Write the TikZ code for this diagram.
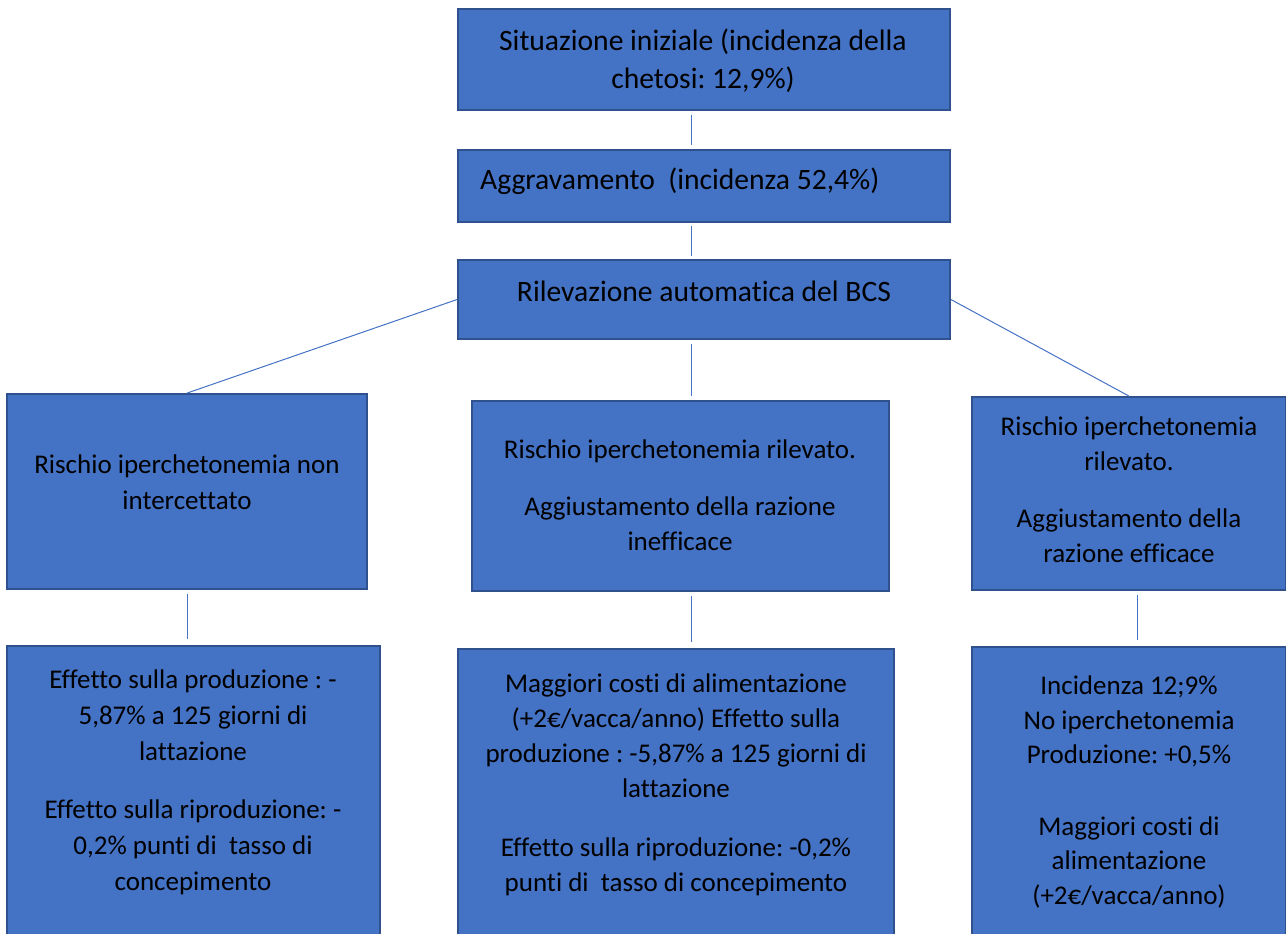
\documentclass[tikz,border=0pt]{standalone}
\usepackage{fontspec}
\setmainfont{Carlito}[Ligatures=NoCommon]
\usetikzlibrary{positioning}
\frenchspacing

\definecolor{boxfill}{HTML}{4472C4}
\definecolor{boxedge}{HTML}{2F528F}

\begin{document}
\begin{tikzpicture}[x=1pt, y=-1pt,
    box/.style={draw=boxedge, fill=boxfill, line width=1.8pt, inner sep=0pt},
    txt/.style={align=center, inner sep=0pt, font=\fontsize{27}{35}\selectfont},
    big/.style={txt, font=\fontsize{29.6}{38}\selectfont},
    link/.style={draw=boxfill, line width=1pt, shorten >=4pt, shorten <=4pt}]
    \useasboundingbox (0,0) rectangle (1286,934);
    \clip (0,0) rectangle (1286,934);

    \coordinate (spine) at (691,0);

    % boxes
    \node[box, minimum width=492, minimum height=101] (start) at (704,59.5) {};
    \node[box, minimum width=492, minimum height=72] (worse) at (704,186) {};
    \node[box, minimum width=492, minimum height=79] (bcs) at (704,299.5) {};

    \node[box, minimum width=360, minimum height=195] (miss) at (187,491.5) {};
    \node[box, minimum width=417, minimum height=190] (bad) at (680.5,496) {};
    \node[box, minimum width=314, minimum height=193] (good) at (1129,493.5) {};

    \node[box, minimum width=373, minimum height=304] (missres) at (193.5,798) {};
    \node[box, minimum width=436, minimum height=301] (badres) at (676,799.5) {};
    \node[box, minimum width=314, minimum height=303] (goodres) at (1129,798.5) {};

    % texts
    \node[big] (startt) at (703,61)
        {Situazione iniziale (incidenza della\\chetosi: 12,9\%)};
    \node[big, anchor=west] (worset) at (480,181) {Aggravamento\ \ (incidenza 52,4\%)};
    \node[big] (bcst) at (704,291) {Rilevazione automatica del BCS};

    \node[txt, font=\fontsize{27}{36}\selectfont] (misst) at (187,482)
        {Rischio iperchetonemia non\\intercettato};
    \node[txt] (badt) at (680,495)
        {Rischio iperchetonemia rilevato.\\[22pt]Aggiustamento della razione\\inefficace};
    \node[txt] (goodt) at (1129,490)
        {Rischio iperchetonemia\\rilevato.\\[22pt]Aggiustamento della\\razione efficace};

    \node[txt, anchor=north, font=\fontsize{27}{36}\selectfont] (missrest) at (193,670)
        {Effetto sulla produzione : -\\5,87\% a 125 giorni di\\lattazione\\[22pt]%
         Effetto sulla riproduzione: -\\0,2\% punti di\ \ tasso di\\concepimento};
    \node[txt, anchor=north] (badrest) at (676,674)
        {Maggiori costi di alimentazione\\(+2€/vacca/anno) Effetto sulla\\produzione : -5,87\% a 125 giorni di\\lattazione\\[24pt]%
         Effetto sulla riproduzione: -0,2\%\\punti di\ \ tasso di concepimento};
    \node[txt, anchor=north, font=\fontsize{27}{34.5}\selectfont] (goodrest) at (1129,676)
        {Incidenza 12;9\%\\No iperchetonemia\\Produzione: +0,5\%\\[37pt]%
         Maggiori costi di\\alimentazione\\(+2€/vacca/anno)};

    % connectors
    \draw[link] (start.south -| spine) -- (worse.north -| spine);
    \draw[link, shorten >=3pt, shorten <=3pt] (worse.south -| spine) -- (bcs.north -| spine);
    \draw[link] (bcs.south -| spine) -- (bad.north -| spine);
    \draw[draw=boxfill, line width=1pt] (bcs.west) -- (miss.north);
    \draw[draw=boxfill, line width=1pt] (bcs.east) -- (good.north);

    \draw[link, shorten >=6pt] (miss.south) -- (miss.south |- missres.north);
    \draw[link, shorten >=6pt] (bad.south -| spine) -- (badres.north -| spine);
    \draw[link, shorten >=6pt] ([xshift=8pt]good.south) -- ([xshift=8pt]good.south |- goodres.north);
\end{tikzpicture}
\end{document}
